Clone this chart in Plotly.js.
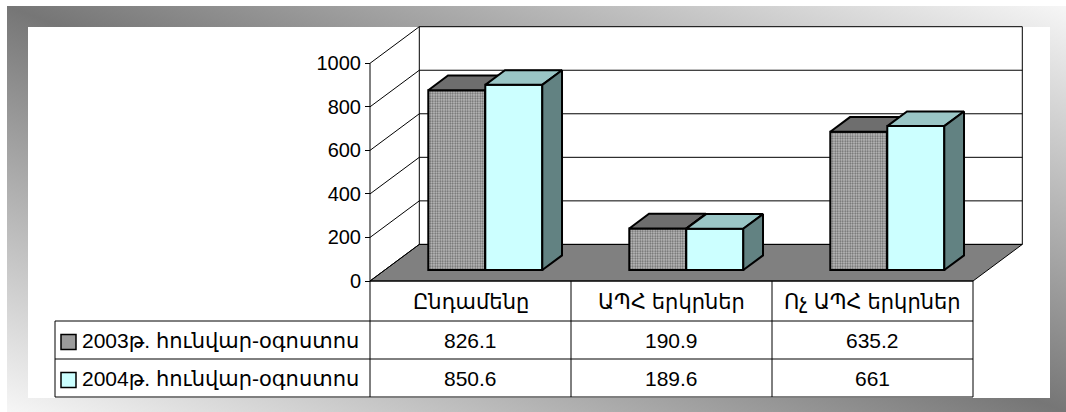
<!DOCTYPE html>
<html><head><meta charset="utf-8">
<script src="https://cdn.plot.ly/plotly-3.0.1.min.js"></script>
<style>
html,body{margin:0;padding:0;background:#fff;width:1066px;height:412px;overflow:hidden;}
#frame{position:absolute;left:7px;top:6px;width:1059px;height:406px;background:linear-gradient(to top right,#f6f6f6 0%,#767676 50%,#f6f6f6 100%);}
#inner{position:absolute;left:28px;top:27px;width:1022px;height:371px;background:#fff;}
#chart{position:absolute;left:0;top:0;width:1066px;height:412px;}
</style></head><body>
<div id="frame"></div><div id="inner"></div><div id="chart"></div>
<script>
// ---- data ----
const categories = ['Ընդամենը', 'ԱՊՀ երկրներ', 'Ոչ ԱՊՀ երկրներ'];
const seriesNames = ['2003թ. հունվար-օգոստոս', '2004թ. հունվար-օգոստոս'];
const values2003 = [826.1, 190.9, 635.2];
const values2004 = [850.6, 189.6, 661];
const yTicks = [0, 200, 400, 600, 800, 1000];
const yTickText = ['0', '200', '400', '600', '800', '1000'];

// ---- geometry / style ----
const W = 1066, H = 412;
const PX0 = 370, PY0 = 281, SX = 201, SY = 0.2177;
const DOM = {l: 364, r: 1028, t: 20, b: 286};
const DX = 49.3 / SX, DY = 36.6 / SY;
const T0 = 0.30, T1 = 0.70, BW = 57 / SX;
const FONT = '"Liberation Sans", Arial, "DejaVu Sans", sans-serif';

const xr = [-0.5 + (DOM.l - PX0) / SX, -0.5 + (DOM.r - PX0) / SX];
const yr = [(PY0 - DOM.b) / SY, (PY0 - DOM.t) / SY];
const ymax = yTicks[yTicks.length - 1];
const nCat = categories.length;
const xL = -0.5, xR = nCat - 0.5;

const traces = [];
// floor
traces.push({type: 'scatter', mode: 'lines', x: [xL, xR, xR + DX, xL + DX, xL], y: [0, 0, DY, DY, 0],
  fill: 'toself', fillcolor: '#808080', line: {color: '#000', width: 1}, hoverinfo: 'skip'});
// walls & grid
const gx = [], gy = [];
yTicks.forEach(v => { gx.push(xL, xL + DX, xR + DX, null); gy.push(v, v + DY, v + DY, null); });
gx.push(xL + DX, xL + DX, null, xR + DX, xR + DX, null); gy.push(DY, ymax + DY, null, DY, ymax + DY, null);
gx.push(xL, xL, null); gy.push(0, ymax, null);
traces.push({type: 'scatter', mode: 'lines', x: gx, y: gy, line: {color: '#000', width: 1}, hoverinfo: 'skip'});

const series = [
  {vals: values2003, front: '#a4a4a4', pattern: {shape: '.', fgcolor: '#666666', bgcolor: '#c2c2c2', size: 2.5, solidity: 0.45},
   top: '#6e6e6e', side: '#5a5a5a', ax: ['x2', 'y2'], off: -1},
  {vals: values2004, front: '#ccffff', pattern: null, top: '#9ac6c6', side: '#628282', ax: ['x3', 'y3'], off: 0}
];
const base = T0 * DY, ddx = (T1 - T0) * DX, ddy = (T1 - T0) * DY;
series.forEach((s, si) => {
  const lefts = s.vals.map((v, i) => i + T0 * DX + s.off * BW);
  const marker = {color: s.front, line: {color: '#000', width: 2}};
  if (s.pattern) marker.pattern = s.pattern;
  traces.push({type: 'bar', x: lefts.map(l => l + BW / 2), y: s.vals, base: base, width: BW, marker: marker,
    xaxis: s.ax[0], yaxis: s.ax[1], hoverinfo: 'skip', name: seriesNames[si]});
  s.vals.forEach((v, i) => {
    const l = lefts[i], r = l + BW, t = base + v;
    traces.push({type: 'scatter', mode: 'lines', x: [l, r, r + ddx, l + ddx, l], y: [t, t, t + ddy, t + ddy, t],
      fill: 'toself', fillcolor: s.top, line: {color: '#000', width: 2}, xaxis: s.ax[0], yaxis: s.ax[1], hoverinfo: 'skip'});
    traces.push({type: 'scatter', mode: 'lines', x: [r, r + ddx, r + ddx, r, r], y: [base, base + ddy, t + ddy, t, base],
      fill: 'toself', fillcolor: s.side, line: {color: '#000', width: 2}, xaxis: s.ax[0], yaxis: s.ax[1], hoverinfo: 'skip'});
  });
});

// ---- table ----
const py = p => 1 - p / H, pxp = p => p / W;
const ROWS = [281, 321, 359, 397], LEFTX = 55, XRPX = PX0 + nCat * SX;
const shapes = [];
const ln = {color: '#000', width: 1};
shapes.push({type: 'line', xref: 'paper', yref: 'paper', x0: pxp(PX0), x1: pxp(XRPX), y0: py(ROWS[0]), y1: py(ROWS[0]), line: ln});
for (let k = 1; k < ROWS.length; k++)
  shapes.push({type: 'line', xref: 'paper', yref: 'paper', x0: pxp(LEFTX), x1: pxp(XRPX), y0: py(ROWS[k]), y1: py(ROWS[k]), line: ln});
shapes.push({type: 'line', xref: 'paper', yref: 'paper', x0: pxp(LEFTX), x1: pxp(LEFTX), y0: py(ROWS[1]), y1: py(ROWS[3]), line: ln});
for (let k = 0; k <= nCat; k++)
  shapes.push({type: 'line', xref: 'paper', yref: 'paper', x0: pxp(PX0 + k * SX), x1: pxp(PX0 + k * SX), y0: py(ROWS[0]), y1: py(ROWS[3]), line: ln});
const keyColors = ['#9c9c9c', '#ccffff'];
const rowMid = [301, 340, 378];
keyColors.forEach((c, k) => {
  const yc = rowMid[k + 1] + 2;
  shapes.push({type: 'rect', xref: 'paper', yref: 'paper', x0: pxp(61), x1: pxp(76), y0: py(yc - 7.5), y1: py(yc + 7.5),
    fillcolor: c, line: {color: '#000', width: 1.5}});
});

const ann = [];
const tf = {family: FONT, size: 21, color: '#000'};
const tickf = {family: FONT, size: 20, color: '#000'};
categories.forEach((c, i) => ann.push({xref: 'x', yref: 'paper', x: i, y: py(rowMid[0]), text: c, showarrow: false, font: tf, xanchor: 'center', yanchor: 'middle'}));
[values2003, values2004].forEach((vals, k) => {
  vals.forEach((v, i) => ann.push({xref: 'x', yref: 'paper', x: i, y: py(rowMid[k + 1]), text: String(v), showarrow: false, font: tf, xanchor: 'center', yanchor: 'middle'}));
  ann.push({xref: 'paper', yref: 'paper', x: pxp(80), y: py(rowMid[k + 1]), text: seriesNames[k], showarrow: false, font: tf, xanchor: 'left', yanchor: 'middle'});
});

const layout = {
  width: W, height: H, margin: {l: 0, r: 0, t: 0, b: 0},
  paper_bgcolor: 'rgba(0,0,0,0)', plot_bgcolor: 'rgba(0,0,0,0)',
  showlegend: false, barmode: 'overlay', font: {family: FONT, size: 20, color: '#000'},
  xaxis: {domain: [DOM.l / W, DOM.r / W], range: xr, visible: false, fixedrange: true},
  yaxis: {domain: [1 - DOM.b / H, 1 - DOM.t / H], range: yr, anchor: 'free', position: PX0 / W,
    tickvals: yTicks, ticktext: yTickText, ticks: 'outside', ticklen: 5, tickcolor: '#000', tickwidth: 1,
    tickfont: tickf, showgrid: false, zeroline: false, showline: false, fixedrange: true},
  xaxis2: {overlaying: 'x', anchor: 'y2', range: xr, visible: false, fixedrange: true},
  yaxis2: {overlaying: 'y', anchor: 'x2', range: yr, visible: false, fixedrange: true},
  xaxis3: {overlaying: 'x', anchor: 'y3', range: xr, visible: false, fixedrange: true},
  yaxis3: {overlaying: 'y', anchor: 'x3', range: yr, visible: false, fixedrange: true},
  shapes: shapes, annotations: ann
};
Plotly.newPlot('chart', traces, layout, {staticPlot: true, displayModeBar: false});
</script></body></html>
